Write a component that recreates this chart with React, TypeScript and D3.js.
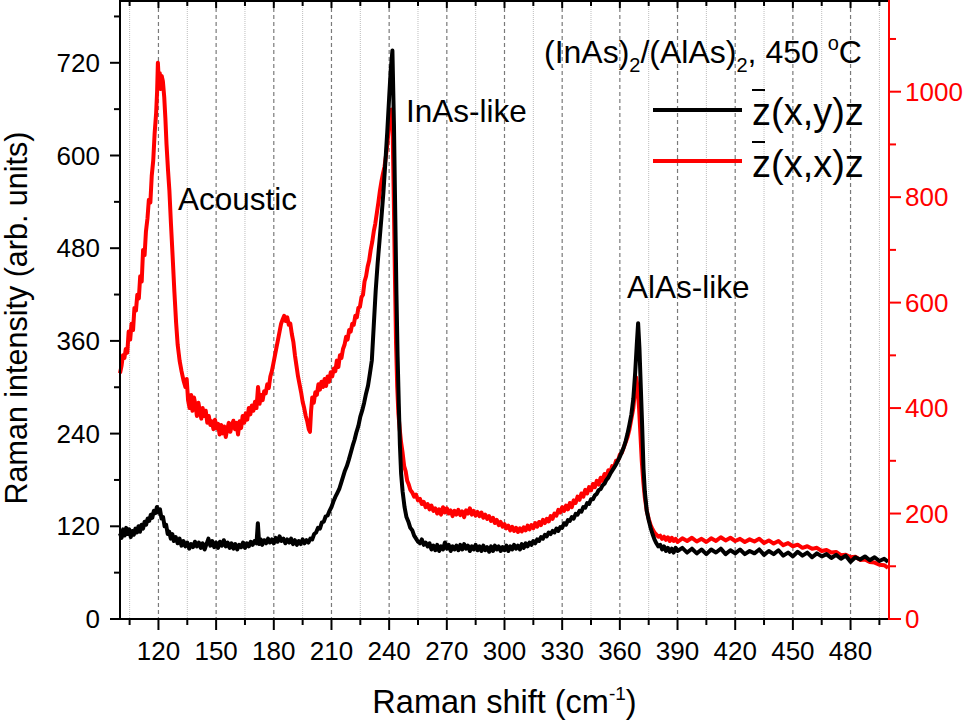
import React from "react";
import * as d3 from "d3";

// ---- data: [Raman shift, intensity] ----
const blackSeries: [number, number][] = [
[100,111],[100.8,105],[101.6,116],[102.4,108],[103.2,118],[104,110],[104.8,116],[105.6,106],[106.4,114],[107.2,109],[108,117],[108.8,112],[109.6,120],[110.4,113],[111.2,122],[112,117],[112.8,126],[113.6,122],[114.4,130],[115.2,127],[116,135],[116.8,131],[117.6,140],[118.4,137],[119.2,145],[120,138],[120.8,142],[121.6,130],[122.4,132],[123.2,120],[124,122],[124.8,110],[125.6,113],[126.4,104],[127.2,110],[128,101],[129,106],[130,98],[131,104],[132,95],[133,101],[134,94],[135,99],[136,91],[137,97],[138,93],[139,100],[140,94],[141,99],[142,92],[143,98],[144,90],[145,97],[146,104],[147,95],[148,101],[149,93],[150,99],[151,92],[152,100],[153,95],[154,102],[155,94],[156,99],[157,92],[158,98],[159,91],[160,97],[161,90],[162,96],[163,93],[164,99],[165,92],[166,98],[167,94],[168,100],[169,96],[170,101],[171,98],[171.7,124],[172.4,97],[173.2,103],[174,96],[175,102],[176,98],[177,104],[178,99],[179,103],[180,98],[181,105],[182,100],[183,107],[184,101],[185,104],[186,98],[187,103],[188,99],[189,104],[190,97],[191,102],[192,96],[193,101],[194,97],[195,103],[196,98],[197,102],[198,99],[199,104],[200,103],[201,110],[202,112],[203,118],[204,117],[205,125],[206,126],[207,133],[208,134],[209,140],[210,145],[211,152],[212,158],[213,163],[214,168],[215,176],[216,184],[217,192],[218,198],[219,206],[220,215],[221,224],[222,232],[223,242],[224,250],[225,262],[226,270],[227,280],[228,292],[229,302],[230,318],[231,335],[232,380],[233,425],[234,460],[235,490],[236,520],[237,552],[238,590],[239,630],[240,675],[240.8,710],[241.7,736],[242.5,640],[243.2,520],[243.8,420],[244.4,340],[245,280],[245.6,225],[246.2,189],[247,165],[248,145],[249,132],[250,126],[251,118],[252,115],[253,108],[254,104],[255,100],[256,98],[257,103],[258,96],[259,99],[260,94],[261,98],[262,90],[263,95],[264,89],[265,96],[266,88],[267,94],[268,90],[269,99],[270,91],[271,96],[272,88],[273,94],[274,90],[275,95],[276,89],[277,96],[278,90],[279,97],[280,91],[281,95],[282,88],[283,94],[284,90],[285,96],[286,89],[287,94],[288,88],[289,95],[290,89],[291,93],[292,87],[293,94],[294,88],[295,95],[296,90],[297,94],[298,88],[299,93],[300,89],[301,95],[302,88],[303,94],[304,90],[305,96],[306,91],[307,95],[308,90],[309,97],[310,92],[311,98],[312,94],[313,99],[314,96],[315,101],[316,98],[317,103],[318,101],[319,106],[320,104],[321,109],[322,107],[323,112],[324,110],[325,114],[326,112],[327,117],[328,114],[329,119],[330,118],[331,124],[332,122],[333,128],[334,127],[335,132],[336,130],[337,136],[338,135],[339,140],[340,139],[341,145],[342,144],[343,150],[344,149],[345,155],[346,155],[347,160],[348,162],[349,167],[350,168],[351,173],[352,175],[353,180],[354,183],[355,188],[356,192],[357,196],[358,200],[359,205],[360,210],[361,216],[362,222],[363,230],[364,240],[365,252],[366,265],[367,285],[368,320],[368.8,355],[369.5,383],[370.2,350],[370.9,300],[371.6,250],[372.3,195],[373,165],[374,140],[375,128],[376,118],[377,110],[378,103],[379,98],[380,94],[381,96],[382,90],[383,94],[384,88],[385,92],[386,87],[387,91],[388,86],[389,92],[390,88],[392.5,92],[395,86],[397.5,91],[400,85],[402.5,90],[405,84],[407.5,90],[410,86],[412.5,91],[415,84],[417.5,89],[420,85],[422.5,90],[425,84],[427.5,88],[430,85],[432.5,90],[435,83],[437.5,88],[440,84],[442.5,89],[445,82],[447.5,86],[450,81],[452.5,87],[455,82],[457.5,86],[460,80],[462.5,85],[465,81],[467.5,84],[470,79],[472.5,83],[475,78],[477.5,82],[480,74],[482.5,80],[485,77],[487.5,81],[490,76],[492.5,80],[495,75],[497.5,78],[499.5,74]
];

const redSeries: [number, number][] = [
[100,466],[100.8,480],[101.5,500],[102.3,495],[103,512],[103.8,505],[104.5,545],[105.3,530],[106,560],[106.8,548],[107.5,590],[108.3,585],[109,615],[109.8,608],[110.5,650],[111.3,640],[112,700],[112.8,690],[113.5,735],[114.3,760],[115,795],[115.8,790],[116.5,840],[117.3,870],[118,920],[118.8,960],[119.3,1000],[119.7,1055],[120.2,1020],[120.7,1035],[121.2,1005],[121.7,1030],[122.3,1020],[123,990],[123.6,950],[124.2,900],[125,850],[125.7,812],[126.5,750],[127.4,686],[128.3,620],[129.2,561],[130,520],[131,490],[132,470],[133,453],[134,440],[134.7,455],[135.4,415],[136.2,400],[137,425],[137.7,395],[138.5,420],[139.3,405],[140,385],[140.8,410],[141.5,395],[142.3,380],[143,400],[143.8,385],[144.6,395],[145.4,372],[146.2,385],[147,368],[147.8,375],[148.6,360],[149.4,378],[150.2,362],[151,370],[151.8,350],[152.6,368],[153.4,352],[154.2,365],[155,345],[155.8,360],[156.6,372],[157.4,355],[158.2,368],[159,376],[159.8,360],[160.6,372],[161.4,350],[162.2,375],[163,362],[163.8,385],[164.6,372],[165.4,390],[166.2,378],[167,400],[167.8,388],[168.6,405],[169.4,395],[170.2,412],[171,400],[171.8,440],[172.6,408],[173.4,425],[174.2,415],[175,432],[175.8,428],[176.6,445],[177.4,438],[178.2,460],[179,470],[179.8,485],[180.6,500],[181.4,515],[182.2,530],[183,545],[183.8,560],[184.6,568],[185.4,575],[186.2,565],[187,572],[187.8,558],[188.6,560],[189.4,540],[190.2,525],[191,500],[191.8,480],[192.6,460],[193.4,445],[194.2,430],[195,412],[195.8,400],[196.6,385],[197.4,375],[198.2,360],[198.8,355],[199.4,395],[200,420],[200.8,410],[201.6,430],[202.4,425],[203.2,445],[204,435],[204.8,450],[205.6,440],[206.4,455],[207.2,442],[208,460],[208.8,450],[209.6,468],[210.4,460],[211.2,475],[212,470],[212.8,490],[213.6,478],[214.4,500],[215.2,495],[216,512],[216.8,520],[217.6,535],[218.4,530],[219.2,548],[220,545],[220.8,560],[221.6,558],[222.4,575],[223.2,572],[224,590],[224.8,592],[225.6,610],[226.4,615],[227.2,640],[228,650],[228.8,668],[229.6,680],[230.4,700],[231.2,715],[232,735],[232.8,750],[233.6,770],[234.4,790],[235.2,812],[236,830],[236.8,845],[237.6,858],[238.4,880],[239.2,905],[240,940],[240.6,955],[241.2,966],[241.8,930],[242.4,800],[243,650],[243.6,520],[244.2,440],[244.8,390],[245.5,360],[246.2,335],[247,315],[247.8,290],[248.6,280],[249.4,262],[250.2,255],[251,245],[252,240],[253,232],[254,236],[255,225],[256,228],[257,218],[258,222],[259,212],[260,218],[261,208],[262,215],[263,205],[264,210],[265,200],[266,208],[267,198],[268,212],[269,202],[270,210],[271,200],[272,206],[273,195],[274,205],[275,198],[276,207],[277,197],[278,204],[279,193],[280,206],[281,200],[282,210],[283,198],[284,205],[285,196],[286,203],[287,195],[288,202],[289,192],[290,198],[291,190],[292,195],[293,186],[294,192],[295,182],[296,188],[297,178],[298,184],[299,175],[300,180],[301,172],[302,177],[303,168],[304,175],[305,167],[306,173],[307,165],[308,172],[309,166],[310,174],[311,168],[312,177],[313,170],[314,178],[315,172],[316,182],[317,175],[318,184],[319,178],[320,188],[321,182],[322,190],[323,185],[324,195],[325,190],[326,200],[327,196],[328,207],[329,202],[330,212],[331,205],[332,215],[333,208],[334,220],[335,212],[336,225],[337,220],[338,232],[339,226],[340,238],[341,232],[342,245],[343,238],[344,250],[345,244],[346,256],[347,250],[348,262],[349,255],[350,268],[351,262],[352,275],[353,268],[354,282],[355,278],[356,290],[357,288],[358,300],[359,300],[360,312],[361,315],[362,325],[363,335],[364,345],[365,360],[366,380],[367,400],[367.8,430],[368.5,458],[369.2,440],[370,400],[370.7,350],[371.4,300],[372.2,260],[373,230],[374,205],[375,190],[376,178],[377,170],[378,164],[379,160],[380,156],[381,158],[382,152],[383,156],[384,150],[385,155],[386,148],[387,154],[388,148],[389,152],[390,146],[392.5,153],[395,148],[397.5,154],[400,147],[402.5,152],[405,146],[407.5,153],[410,148],[412.5,155],[415,149],[417.5,154],[420,148],[422.5,152],[425,146],[427.5,151],[430,147],[432.5,152],[435,144],[437.5,149],[440,143],[442.5,148],[445,140],[447.5,144],[450,138],[452.5,141],[455,135],[457.5,138],[460,133],[462.5,135],[465,129],[467.5,131],[470,126],[472.5,127],[475,121],[477.5,122],[480,117],[482.5,118],[485,112],[487.5,113],[490,108],[492.5,107],[495,103],[497.5,102],[499.5,97]
];

const xMajor = [120,150,180,210,240,270,300,330,360,390,420,450,480];
const xMinor = [105,135,165,195,225,255,285,315,345,375,405,435,465,495];
const leftMajor = [0,120,240,360,480,600,720];
const leftMinor = [60,180,300,420,540,660,780];
const rightMajor = [0,200,400,600,800,1000];
const rightMinor = [100,300,500,700,900,1100];

const FONT = "'Liberation Sans', Arial, sans-serif";

export default function App() {
  const L = 120, R = 889, T = 1, B = 619;
  const x = d3.scaleLinear().domain([100, 500]).range([L, R]);
  const yL = d3.scaleLinear().domain([0, 800]).range([B, T]);
  const yR = d3.scaleLinear().domain([0, 1172]).range([B, T]);

  const blackLine = d3.line<[number, number]>().x((d) => x(d[0])).y((d) => yL(d[1]));
  const redLine = d3.line<[number, number]>().x((d) => x(d[0])).y((d) => yR(d[1]));

  const red = "#ff0000";

  return (
    <svg width={969} height={724} style={{ position: "absolute", left: 0, top: 0, background: "#fff" }} fontFamily={FONT}>
      {/* grid */}
      {xMinor.map((v) => (
        <line key={"gm" + v} x1={x(v)} x2={x(v)} y1={T} y2={B} stroke="#bdbdbd" strokeWidth={1} strokeDasharray="1,1" />
      ))}
      {xMajor.map((v) => (
        <line key={"gM" + v} x1={x(v)} x2={x(v)} y1={T} y2={B} stroke="#7a7a7a" strokeWidth={1.2} strokeDasharray="4,3" />
      ))}

      {/* curves */}
      <path d={redLine(redSeries) || ""} fill="none" stroke={red} strokeWidth={4} strokeLinejoin="round" />
      <path d={blackLine(blackSeries) || ""} fill="none" stroke="#000" strokeWidth={4} strokeLinejoin="round" />

      {/* frame */}
      <line x1={L} x2={R} y1={T} y2={T} stroke="#000" strokeWidth={2} />
      <line x1={L} x2={R} y1={B} y2={B} stroke="#000" strokeWidth={2} />
      <line x1={L} x2={L} y1={0} y2={B + 1} stroke="#000" strokeWidth={2} />

      {/* bottom ticks */}
      {xMajor.map((v) => (
        <g key={"xt" + v}>
          <line x1={x(v)} x2={x(v)} y1={B} y2={B + 11} stroke="#000" strokeWidth={2} />
          <line x1={x(v)} x2={x(v)} y1={T} y2={T + 7} stroke="#000" strokeWidth={2} />
          <text x={x(v)} y={660} textAnchor="middle" fontSize={26}>{v}</text>
        </g>
      ))}
      {xMinor.map((v) => (
        <g key={"xm" + v}>
          <line x1={x(v)} x2={x(v)} y1={B} y2={B + 6} stroke="#000" strokeWidth={2} />
          <line x1={x(v)} x2={x(v)} y1={T} y2={T + 5} stroke="#000" strokeWidth={2} />
        </g>
      ))}

      {/* left axis ticks */}
      {leftMajor.map((v) => (
        <g key={"lt" + v}>
          <line x1={L - 10} x2={L} y1={yL(v)} y2={yL(v)} stroke="#000" strokeWidth={2} />
          <text x={L - 20} y={yL(v)} dy="0.35em" textAnchor="end" fontSize={26}>{v}</text>
        </g>
      ))}
      {leftMinor.map((v) => (
        <line key={"lm" + v} x1={L - 6} x2={L} y1={yL(v)} y2={yL(v)} stroke="#000" strokeWidth={2} />
      ))}

      {/* right axis */}
      <line x1={R} x2={R} y1={0} y2={B + 1} stroke={red} strokeWidth={2} />
      {rightMajor.map((v) => (
        <g key={"rt" + v}>
          <line x1={R} x2={R + 12} y1={yR(v)} y2={yR(v)} stroke={red} strokeWidth={2} />
          <text x={R + 16} y={yR(v)} dy="0.35em" textAnchor="start" fontSize={26} fill={red}>{v}</text>
        </g>
      ))}
      {rightMinor.map((v) => (
        <line key={"rm" + v} x1={R} x2={R + 7} y1={yR(v)} y2={yR(v)} stroke={red} strokeWidth={2} />
      ))}

      {/* axis titles */}
      <text x={(L + R) / 2} y={713} textAnchor="middle" fontSize={32.5}>
        Raman shift (cm<tspan dy={-13} fontSize={19}>-1</tspan><tspan dy={13}>)</tspan>
      </text>
      <text transform={`translate(27,${(T + B) / 2 + 8}) rotate(-90)`} textAnchor="middle" fontSize={30.5}>
        Raman intensity (arb. units)
      </text>

      {/* annotations */}
      <text x={178} y={210} fontSize={31.5}>Acoustic</text>
      <text x={406} y={122} fontSize={31.5}>InAs-like</text>
      <text x={627} y={298} fontSize={31.5}>AlAs-like</text>

      {/* legend */}
      <text x={544} y={63} fontSize={32}>
        (InAs)<tspan dy={9} fontSize={20}>2</tspan><tspan dy={-9}>/(AlAs)</tspan><tspan dy={9} fontSize={20}>2</tspan><tspan dy={-9}>, 450 </tspan><tspan dy={-13} fontSize={20}>o</tspan><tspan dy={13}>C</tspan>
      </text>
      <line x1={653} x2={742} y1={110} y2={110} stroke="#000" strokeWidth={4} />
      <line x1={653} x2={742} y1={161} y2={161} stroke={red} strokeWidth={4} />
      <text x={752} y={125} fontSize={38}>z(x,y)z</text>
      <line x1={752} x2={765} y1={90} y2={90} stroke="#000" strokeWidth={2} />
      <text x={752} y={177} fontSize={38}>z(x,x)z</text>
      <line x1={752} x2={765} y1={142} y2={142} stroke="#000" strokeWidth={2} />
    </svg>
  );
}
